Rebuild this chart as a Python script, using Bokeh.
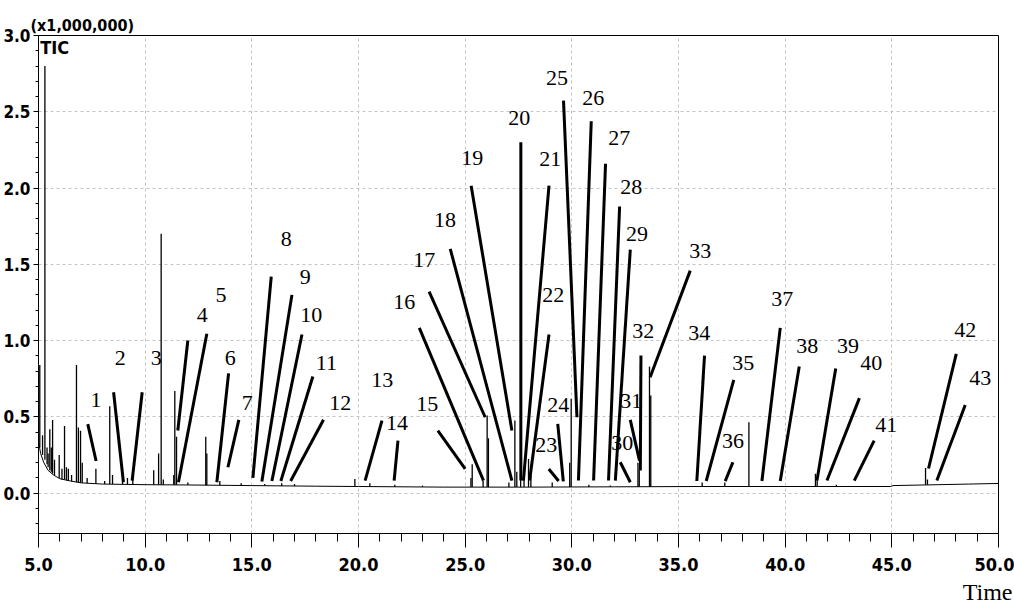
from bokeh.plotting import figure
from bokeh.models import Range1d, SingleIntervalTicker, PrintfTickFormatter, Title, ColumnDataSource
from bokeh.core.properties import value
from bokeh.embed import file_html
from bokeh.resources import INLINE

# ---- chromatogram (intensity in units of 1,000,000) ----
base_time = [5.0, 5.1, 5.25, 5.45, 5.7, 6.0, 6.5, 7.0, 8.0, 9.0, 10.0, 12.0, 15.0, 18.0,
             20.0, 24.0, 28.0, 32.0, 36.0, 40.0, 44.95, 45.05, 47.2, 48.6, 50.0]
base_level = [0.34, 0.26, 0.20, 0.15, 0.12, 0.095, 0.08, 0.068, 0.06, 0.058, 0.056, 0.054, 0.05, 0.046,
              0.044, 0.04, 0.04, 0.042, 0.044, 0.044, 0.044, 0.05, 0.056, 0.06, 0.064]

peak_time = [5.06, 5.19, 5.30, 5.40, 5.45, 5.53, 5.60, 5.66, 5.75, 5.97, 6.10, 6.22, 6.31, 6.40,
             6.55, 6.78, 6.87, 6.97, 7.05, 7.28, 7.69, 8.10, 8.34, 8.47, 8.94, 9.17, 9.42,
             10.40, 10.63, 10.75, 10.85, 11.34, 11.39, 11.47, 12.00, 12.84, 12.89, 13.50,
             14.5, 15.6, 16.4, 17.0, 19.83, 20.53, 21.70, 23.0, 25.27, 25.33, 25.84, 26.03,
             26.09, 27.05, 27.33, 27.42, 27.60, 27.76, 27.97, 28.08, 29.08, 29.90, 29.97,
             30.8, 31.8, 33.10, 33.16, 33.64, 33.70, 36.11, 37.17, 38.30, 41.42, 41.50,
             42.4, 46.58, 46.67]
peak_base = [0.30, 0.25, 0.22, 0.19, 0.17, 0.15, 0.14, 0.13, 0.12, 0.10, 0.09, 0.09, 0.085, 0.08,
             0.078, 0.072, 0.07, 0.068, 0.068, 0.066, 0.062, 0.06, 0.06, 0.06, 0.058, 0.058, 0.058,
             0.056, 0.056, 0.056, 0.056, 0.055, 0.055, 0.055, 0.054, 0.053, 0.053, 0.052,
             0.05, 0.05, 0.048, 0.047, 0.044, 0.044, 0.043, 0.042, 0.04, 0.04, 0.04, 0.04,
             0.04, 0.04, 0.04, 0.04, 0.04, 0.04, 0.04, 0.04, 0.04, 0.04, 0.04,
             0.041, 0.042, 0.042, 0.042, 0.042, 0.042, 0.044, 0.044, 0.044, 0.044, 0.044,
             0.044, 0.055, 0.055]
peak_height = [0.84, 0.38, 2.80, 0.30, 0.26, 0.42, 0.30, 0.48, 0.22, 0.25, 0.16, 0.44, 0.17, 0.16,
               0.12, 0.84, 0.43, 0.41, 0.20, 0.10, 0.16, 0.08, 0.57, 0.12, 0.10, 0.10, 0.11,
               0.15, 0.26, 1.70, 0.09, 0.12, 0.67, 0.37, 0.07, 0.37, 0.26, 0.08,
               0.065, 0.06, 0.065, 0.06, 0.094, 0.066, 0.055, 0.05, 0.10, 0.19, 0.08, 0.51,
               0.36, 0.07, 0.476, 0.14, 0.10, 0.12, 0.225, 0.12, 0.07, 0.20, 0.62,
               0.055, 0.05, 0.20, 0.15, 0.83, 0.64, 0.07, 0.07, 0.465, 0.127, 0.09,
               0.055, 0.166, 0.09]

# ---- numbered peak labels ----
label_text = [str(i) for i in range(1, 44)]
label_time = [7.70, 8.83, 10.52, 12.67, 13.56, 13.99, 14.78, 16.61, 17.50, 17.78,
              18.49, 19.14, 21.11, 21.81, 23.22, 22.14, 23.08, 24.06, 25.33, 27.53,
              28.99, 29.13, 28.80, 29.36, 29.31, 31.00, 32.22, 32.78, 33.06, 32.36,
              32.78, 33.35, 36.02, 35.97, 38.03, 37.56, 39.86, 41.03, 42.95, 44.03,
              44.74, 48.44, 49.14]
label_level = [0.611, 0.886, 0.886, 1.168, 1.299, 0.886, 0.591, 1.669, 1.420, 1.168,
               0.853, 0.591, 0.745, 0.457, 0.588, 1.256, 1.531, 1.794, 2.200, 2.462,
               2.193, 1.302, 0.319, 0.581, 2.724, 2.593, 2.331, 2.010, 1.702, 0.332,
               0.607, 1.060, 1.590, 1.053, 0.856, 0.339, 1.276, 0.968, 0.968, 0.856,
               0.444, 1.073, 0.752]

# ---- leader lines: from near the label (0) to the peak (1) ----
lead_time0 = [7.31, 8.52, 9.86, 12.00, 12.89, 13.91, 14.39, 15.91, 16.88, 17.35,
              17.86, 18.36, 21.10, 21.85, 23.72, 22.85, 23.31, 24.30, 25.28, 27.61,
              28.93, 28.93, 28.92, 29.34, 29.61, 30.91, 31.58, 32.24, 32.74, 32.27,
              32.74, 33.24, 35.55, 36.22, 37.59, 37.55, 39.77, 40.66, 42.37, 43.48,
              44.17, 48.02, 48.44]
lead_level0 = [0.453, 0.662, 0.662, 1.001, 1.045, 0.786, 0.481, 1.420, 1.300, 1.040,
               0.765, 0.481, 0.476, 0.345, 0.411, 1.084, 1.322, 1.602, 2.016, 2.300,
               2.016, 1.040, 0.159, 0.455, 2.573, 2.438, 2.159, 1.879, 1.597, 0.203,
               0.481, 0.902, 1.459, 0.902, 0.743, 0.203, 1.084, 0.830, 0.817, 0.623,
               0.345, 0.913, 0.578]
lead_time1 = [7.70, 8.98, 9.39, 11.53, 11.56, 13.36, 13.88, 15.05, 15.47, 15.94,
              16.36, 16.82, 20.31, 21.67, 25.00, 25.86, 25.94, 27.19, 27.19, 27.61,
              27.73, 28.02, 29.38, 29.60, 30.24, 30.31, 31.02, 31.72, 32.04, 32.74,
              33.17, 33.21, 33.67, 35.86, 36.30, 37.19, 38.91, 39.77, 41.49, 41.96,
              43.24, 46.72, 47.11]
lead_level1 = [0.211, 0.072, 0.083, 0.411, 0.072, 0.072, 0.170, 0.101, 0.077, 0.080,
               0.080, 0.080, 0.083, 0.083, 0.160, 0.083, 0.498, 0.083, 0.411, 0.083,
               0.083, 0.083, 0.080, 0.077, 0.498, 0.083, 0.083, 0.083, 0.083, 0.072,
               0.214, 0.149, 0.760, 0.080, 0.080, 0.079, 0.080, 0.080, 0.083, 0.083,
               0.083, 0.162, 0.083]

NARROW = "DejaVu Sans Condensed"
SERIF = "Liberation Serif"

p = figure(width=1014, height=610, output_backend="svg", toolbar_location=None,
           x_range=Range1d(5, 50), y_range=Range1d(-0.264, 3.0),
           min_border_left=38, min_border_right=16, min_border_top=35, min_border_bottom=77)
p.background_fill_color = "white"
p.border_fill_color = "white"
p.outline_line_color = "black"
p.outline_line_width = 1

xt = SingleIntervalTicker(interval=5, num_minor_ticks=5)
yt = SingleIntervalTicker(interval=0.5, num_minor_ticks=5)
xax = p.xaxis[0]
yax = p.yaxis[0]
xax.ticker = xt
yax.ticker = yt
p.xgrid.ticker = xt
p.ygrid.ticker = yt
for ax in (xax, yax):
    ax.formatter = PrintfTickFormatter(format="%.1f")
    ax.axis_line_color = "black"
    ax.major_tick_line_color = "black"
    ax.minor_tick_line_color = "black"
    ax.major_tick_in = 0
    ax.minor_tick_in = 0
    ax.major_label_text_font = NARROW
    ax.major_label_text_font_style = "bold"
    ax.major_label_text_color = "black"
xax.major_tick_out = 14
xax.minor_tick_out = 8
xax.major_label_text_font_size = "18px"
xax.major_label_standoff = 10
yax.major_tick_out = 5
yax.minor_tick_out = 3
yax.major_label_text_font_size = "17px"
yax.major_label_standoff = 3

for g in (p.xgrid, p.ygrid):
    g.grid_line_color = "#c4c4c4"
    g.grid_line_dash = "3 3"
    g.grid_line_width = 1

# trace
p.line(base_time, base_level, line_color="black", line_width=1)
p.segment(x0=peak_time, y0=peak_base, x1=peak_time, y1=peak_height,
          line_color="black", line_width=1.3)

# leader lines
p.segment(x0=lead_time0, y0=lead_level0, x1=lead_time1, y1=lead_level1,
          line_color="black", line_width=3)

# peak numbers
src = ColumnDataSource(dict(t=label_time, v=label_level, s=label_text))
p.text(x="t", y="v", text="s", source=src, text_font=value(SERIF), text_font_size="22px",
       text_align="center", text_baseline="middle", text_color="black")
p.text(x=[5.08], y=[2.921], text=["TIC"], text_font=value(NARROW), text_font_style="bold",
       text_font_size="18px", text_align="left", text_baseline="middle", text_color="black")

p.add_layout(Title(text="(x1,000,000)", align="left", offset=-8, standoff=2,
                   text_font=NARROW, text_font_style="bold", text_font_size="16px",
                   text_color="black"), "above")
p.add_layout(Title(text="Time", align="right", offset=-14, standoff=7,
                   text_font=SERIF, text_font_style="normal", text_font_size="24px",
                   text_color="black"), "below")

open("out.html", "w").write(file_html(p, INLINE))
